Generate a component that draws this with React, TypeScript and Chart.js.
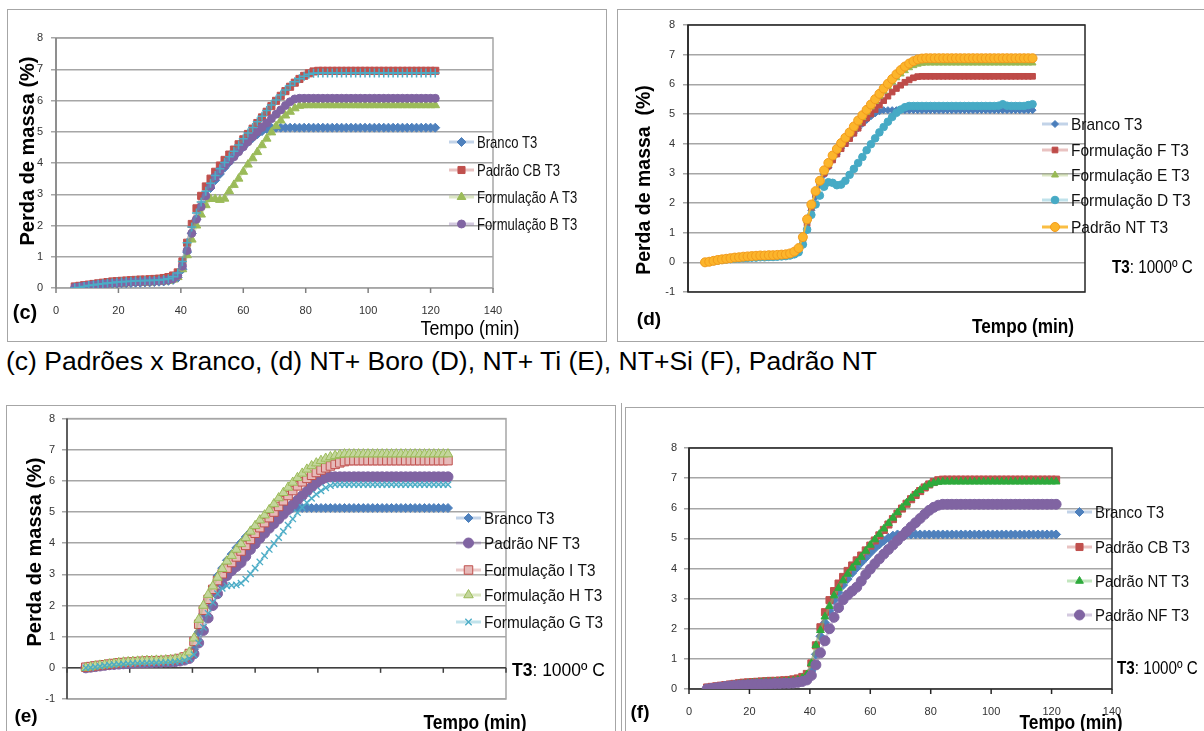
import React, { useEffect, useRef } from "react";
import { Chart, registerables } from "chart.js";

Chart.register(...registerables);

// ---------------- data ----------------
const TIME_MIN = [
  6, 7.5, 9, 10.5, 12, 13.5, 15, 16.5, 18, 19.5,
  21, 22.5, 24, 25.5, 27, 28.5, 30, 31.5, 33, 34.5,
  36, 37.5, 39, 40.5, 42, 43.5, 45, 46.5, 48, 49.5,
  51, 52.5, 54, 55.5, 57, 58.5, 60, 61.5, 63, 64.5,
  66, 67.5, 69, 70.5, 72, 73.5, 75, 76.5, 78, 79.5,
  81, 82.5, 84, 85.5, 87, 88.5, 90, 91.5, 93, 94.5,
  96, 97.5, 99, 100.5, 102, 103.5, 105, 106.5, 108, 109.5,
  111, 112.5, 114, 115.5, 117, 118.5, 120, 121.5,
];

const X_MIN = 0;
const X_MAX = 140;
const X_STEP = 20;
const Y_MAX = 8;

const BRANCO_T3 = [
  0.00, 0.02, 0.04, 0.06, 0.08, 0.09, 0.10, 0.12, 0.13, 0.14,
  0.15, 0.15, 0.16, 0.17, 0.17, 0.18, 0.18, 0.19, 0.20, 0.21,
  0.23, 0.26, 0.33, 0.60, 1.15, 1.75, 2.20, 2.60, 2.95, 3.20,
  3.45, 3.65, 3.85, 4.02, 4.20, 4.36, 4.52, 4.67, 4.80, 4.92,
  5.02, 5.09, 5.13, 5.13, 5.13, 5.13, 5.13, 5.13, 5.13, 5.13,
  5.13, 5.13, 5.13, 5.13, 5.13, 5.13, 5.13, 5.13, 5.13, 5.13,
  5.13, 5.13, 5.13, 5.13, 5.13, 5.13, 5.13, 5.13, 5.13, 5.13,
  5.13, 5.13, 5.13, 5.13, 5.13, 5.13, 5.13, 5.13,
];

const PADRAO_CB_T3 = [
  0.05, 0.07, 0.09, 0.11, 0.13, 0.15, 0.17, 0.19, 0.21, 0.22,
  0.23, 0.24, 0.25, 0.26, 0.27, 0.27, 0.28, 0.29, 0.30, 0.32,
  0.35, 0.40, 0.50, 0.85, 1.45, 2.05, 2.55, 2.95, 3.25, 3.50,
  3.72, 3.92, 4.10, 4.27, 4.43, 4.60, 4.76, 4.93, 5.10, 5.28,
  5.46, 5.64, 5.82, 5.99, 6.15, 6.30, 6.44, 6.57, 6.69, 6.79,
  6.87, 6.93, 6.95, 6.95, 6.95, 6.95, 6.95, 6.95, 6.95, 6.95,
  6.95, 6.95, 6.95, 6.95, 6.95, 6.95, 6.95, 6.95, 6.95, 6.95,
  6.95, 6.95, 6.95, 6.95, 6.95, 6.95, 6.95, 6.95,
];

const PADRAO_NT_T3 = [
  0.00, 0.02, 0.05, 0.08, 0.10, 0.12, 0.14, 0.16, 0.17, 0.19,
  0.20, 0.21, 0.22, 0.23, 0.23, 0.24, 0.24, 0.25, 0.26, 0.27,
  0.30, 0.36, 0.48, 0.85, 1.45, 1.95, 2.40, 2.75, 3.10, 3.35,
  3.60, 3.82, 4.02, 4.20, 4.38, 4.58, 4.78, 4.96, 5.14, 5.32,
  5.50, 5.68, 5.86, 6.02, 6.18, 6.34, 6.48, 6.60, 6.70, 6.78,
  6.84, 6.87, 6.88, 6.88, 6.88, 6.88, 6.88, 6.88, 6.88, 6.88,
  6.88, 6.88, 6.88, 6.88, 6.88, 6.88, 6.88, 6.88, 6.88, 6.88,
  6.88, 6.88, 6.88, 6.88, 6.88, 6.88, 6.88, 6.88,
];

const FORM_A_T3 = [
  0.00, 0.01, 0.03, 0.05, 0.07, 0.08, 0.10, 0.11, 0.12, 0.13,
  0.14, 0.15, 0.16, 0.16, 0.17, 0.17, 0.18, 0.19, 0.20, 0.21,
  0.23, 0.27, 0.35, 0.60, 1.05, 1.55, 2.00, 2.35, 2.65, 2.85,
  2.85, 2.82, 2.86, 3.10, 3.30, 3.50, 3.72, 3.95, 4.15, 4.35,
  4.57, 4.78, 4.98, 5.18, 5.36, 5.52, 5.64, 5.75, 5.83, 5.85,
  5.85, 5.85, 5.85, 5.85, 5.85, 5.85, 5.85, 5.85, 5.85, 5.85,
  5.85, 5.85, 5.85, 5.85, 5.85, 5.85, 5.85, 5.85, 5.85, 5.85,
  5.85, 5.85, 5.85, 5.85, 5.85, 5.85, 5.85, 5.85,
];

const FORM_B_T3 = [
  0.02, 0.04, 0.06, 0.08, 0.10, 0.11, 0.13, 0.14, 0.15, 0.16,
  0.17, 0.18, 0.19, 0.20, 0.20, 0.21, 0.21, 0.22, 0.23, 0.24,
  0.26, 0.30, 0.40, 0.70, 1.20, 1.75, 2.20, 2.60, 2.95, 3.25,
  3.55, 3.75, 3.92, 4.06, 4.20, 4.36, 4.52, 4.68, 4.84, 5.00,
  5.14, 5.28, 5.42, 5.56, 5.70, 5.84, 5.96, 6.05, 6.07, 6.07,
  6.07, 6.07, 6.07, 6.07, 6.07, 6.07, 6.07, 6.07, 6.07, 6.07,
  6.07, 6.07, 6.07, 6.07, 6.07, 6.07, 6.07, 6.07, 6.07, 6.07,
  6.07, 6.07, 6.07, 6.07, 6.07, 6.07, 6.07, 6.07,
];

const FORM_F_T3 = [
  0.00, 0.03, 0.06, 0.08, 0.10, 0.12, 0.14, 0.15, 0.17, 0.18,
  0.19, 0.20, 0.21, 0.22, 0.22, 0.23, 0.23, 0.24, 0.25, 0.26,
  0.28, 0.33, 0.42, 0.75, 1.30, 1.85, 2.30, 2.70, 3.00, 3.25,
  3.45, 3.65, 3.83, 4.00, 4.17, 4.35, 4.52, 4.70, 4.86, 5.00,
  5.15, 5.30, 5.45, 5.60, 5.74, 5.86, 5.97, 6.07, 6.15, 6.22,
  6.26, 6.27, 6.27, 6.27, 6.27, 6.27, 6.27, 6.27, 6.27, 6.27,
  6.27, 6.27, 6.27, 6.27, 6.27, 6.27, 6.27, 6.27, 6.27, 6.27,
  6.27, 6.27, 6.27, 6.27, 6.27, 6.27, 6.27, 6.27,
];

const FORM_E_T3 = [
  0.00, 0.02, 0.05, 0.07, 0.09, 0.11, 0.13, 0.15, 0.16, 0.18,
  0.19, 0.20, 0.21, 0.22, 0.22, 0.23, 0.23, 0.24, 0.25, 0.26,
  0.29, 0.34, 0.45, 0.80, 1.40, 1.90, 2.35, 2.72, 3.05, 3.30,
  3.55, 3.77, 3.97, 4.15, 4.33, 4.52, 4.70, 4.88, 5.06, 5.24,
  5.42, 5.60, 5.77, 5.93, 6.08, 6.22, 6.35, 6.46, 6.56, 6.63,
  6.68, 6.71, 6.72, 6.72, 6.72, 6.72, 6.72, 6.72, 6.72, 6.72,
  6.72, 6.72, 6.72, 6.72, 6.72, 6.72, 6.72, 6.72, 6.72, 6.72,
  6.72, 6.72, 6.72, 6.72, 6.72, 6.72, 6.72, 6.72,
];

const FORM_D_T3 = [
  0.00, 0.02, 0.04, 0.06, 0.08, 0.10, 0.11, 0.12, 0.13, 0.14,
  0.15, 0.16, 0.16, 0.17, 0.17, 0.18, 0.18, 0.19, 0.20, 0.21,
  0.23, 0.27, 0.34, 0.60, 1.10, 1.60, 1.95, 2.25, 2.55, 2.70,
  2.68, 2.60, 2.62, 2.75, 2.95, 3.15, 3.35, 3.55, 3.78, 3.98,
  4.18, 4.38, 4.56, 4.74, 4.90, 5.04, 5.15, 5.23, 5.27, 5.27,
  5.27, 5.27, 5.27, 5.27, 5.27, 5.27, 5.27, 5.27, 5.27, 5.27,
  5.27, 5.27, 5.27, 5.27, 5.27, 5.27, 5.27, 5.27, 5.27, 5.28,
  5.33, 5.28, 5.27, 5.27, 5.27, 5.27, 5.30, 5.33,
];

const PADRAO_NF_T3 = [
  0.00, 0.02, 0.04, 0.06, 0.08, 0.10, 0.11, 0.12, 0.13, 0.14,
  0.15, 0.16, 0.16, 0.17, 0.17, 0.18, 0.18, 0.19, 0.19, 0.20,
  0.22, 0.25, 0.30, 0.45, 0.80, 1.20, 1.60, 2.00, 2.38, 2.70,
  2.96, 3.12, 3.25, 3.38, 3.58, 3.80, 3.98, 4.16, 4.32, 4.48,
  4.63, 4.78, 4.93, 5.08, 5.23, 5.38, 5.52, 5.66, 5.80, 5.93,
  6.03, 6.10, 6.13, 6.13, 6.13, 6.13, 6.13, 6.13, 6.13, 6.13,
  6.13, 6.13, 6.13, 6.13, 6.13, 6.13, 6.13, 6.13, 6.13, 6.13,
  6.13, 6.13, 6.13, 6.13, 6.13, 6.13, 6.13, 6.13,
];

const FORM_H_T3 = [
  0.00, 0.03, 0.06, 0.08, 0.10, 0.12, 0.14, 0.16, 0.18, 0.19,
  0.20, 0.21, 0.22, 0.23, 0.23, 0.24, 0.24, 0.25, 0.26, 0.28,
  0.31, 0.37, 0.50, 0.95, 1.55, 2.00, 2.35, 2.62, 2.90, 3.18,
  3.42, 3.60, 3.80, 3.98, 4.17, 4.38, 4.56, 4.74, 4.90, 5.07,
  5.26, 5.45, 5.62, 5.79, 5.95, 6.10, 6.24, 6.37, 6.48, 6.57,
  6.65, 6.72, 6.77, 6.81, 6.84, 6.86, 6.86, 6.86, 6.86, 6.86,
  6.86, 6.86, 6.86, 6.86, 6.86, 6.86, 6.86, 6.86, 6.86, 6.86,
  6.86, 6.86, 6.86, 6.86, 6.86, 6.86, 6.86, 6.86,
];

const FORM_I_T3 = [
  0.02, 0.04, 0.06, 0.08, 0.10, 0.12, 0.14, 0.16, 0.17, 0.18,
  0.19, 0.20, 0.21, 0.22, 0.22, 0.23, 0.23, 0.24, 0.25, 0.27,
  0.30, 0.35, 0.46, 0.85, 1.40, 1.85, 2.20, 2.52, 2.80, 3.02,
  3.20, 3.38, 3.56, 3.75, 3.93, 4.12, 4.32, 4.50, 4.66, 4.82,
  5.00, 5.18, 5.36, 5.53, 5.69, 5.84, 5.97, 6.08, 6.18, 6.27,
  6.35, 6.42, 6.48, 6.53, 6.58, 6.62, 6.65, 6.65, 6.65, 6.65,
  6.65, 6.65, 6.65, 6.65, 6.65, 6.65, 6.65, 6.65, 6.65, 6.65,
  6.65, 6.65, 6.65, 6.65, 6.65, 6.65, 6.65, 6.65,
];

const FORM_G_T3 = [
  0.00, 0.01, 0.03, 0.05, 0.07, 0.09, 0.10, 0.11, 0.12, 0.13,
  0.14, 0.14, 0.15, 0.15, 0.16, 0.16, 0.17, 0.17, 0.18, 0.19,
  0.21, 0.24, 0.30, 0.42, 0.80, 1.30, 1.75, 2.10, 2.38, 2.55,
  2.63, 2.65, 2.66, 2.72, 2.85, 3.02, 3.20, 3.40, 3.60, 3.80,
  3.99, 4.18, 4.38, 4.58, 4.78, 4.98, 5.15, 5.30, 5.44, 5.57,
  5.68, 5.78, 5.85, 5.88, 5.88, 5.88, 5.88, 5.88, 5.88, 5.88,
  5.88, 5.88, 5.88, 5.88, 5.88, 5.88, 5.88, 5.88, 5.88, 5.88,
  5.88, 5.88, 5.88, 5.88, 5.88, 5.88, 5.88, 5.88,
];

// ---------------- styling / layout ----------------
const SANS = "'Liberation Sans', Arial, Helvetica, sans-serif";
const Y_AXIS_W = 30;

type Series = {
  label: string;
  values: number[];
  marker: string;
  r: number;
  fill: string;
  stroke: string;
  bw: number;
  line: string;
  lw?: number;
  hideLegend?: boolean;
};

type Panel = {
  key: string;
  box: { x: number; y: number; w: number; h: number };
  plot: { l: number; r: number; t: number; b: number };
  yMin: number;
  xLabelPad: number;
  xAxisH: number;
  yLabelPad: number;
  grid: string;
  frame: { rect: string; left: string; zero: string | null; ticks: boolean };
  legend: { x: number; len: number; rows: number[]; scale: number; size: number };
  series: Series[];
};

const BLUE = "#4F81BD";
const RED = "#C0504D";
const GREEN = "#9BBB59";
const PURPLE = "#8064A2";
const CYAN = "#4BACC6";

const brancoStyle = (r: number): Omit<Series, "values"> => ({
  label: "Branco T3",
  marker: "rectRot",
  r,
  fill: BLUE,
  stroke: BLUE,
  bw: 1,
  line: "rgba(79,129,189,0.35)",
});

const PANELS: Panel[] = [
  {
    key: "c",
    box: { x: 7, y: 9, w: 600, h: 333 },
    plot: { l: 56, r: 493, t: 38, b: 288 },
    yMin: 0,
    xLabelPad: 16,
    xAxisH: 30,
    yLabelPad: 8,
    grid: "#a6a6a6",
    frame: { rect: "#a6a6a6", left: "#808080", zero: null, ticks: true },
    legend: { x: 449, len: 25, rows: [142, 170, 197, 224], scale: 0.77, size: 17 },
    series: [
      { ...brancoStyle(4.5), values: BRANCO_T3 },
      { label: "Padrão CB T3", values: PADRAO_CB_T3, marker: "rect", r: 5, fill: RED, stroke: RED, bw: 1, line: "rgba(192,80,77,0.35)" },
      { label: "Formulação A T3", values: FORM_A_T3, marker: "triangle", r: 5, fill: GREEN, stroke: GREEN, bw: 1, line: "rgba(155,187,89,0.35)" },
      { label: "Formulação B T3", values: FORM_B_T3, marker: "circle", r: 4, fill: PURPLE, stroke: PURPLE, bw: 1, line: "rgba(128,100,162,0.35)" },
      { label: "Padrão NT T3", values: PADRAO_NT_T3, marker: "cross", r: 4.5, fill: CYAN, stroke: CYAN, bw: 1.5, line: "rgba(75,172,198,0.35)", hideLegend: true },
    ],
  },
  {
    key: "d",
    box: { x: 617, y: 9, w: 587, h: 333 },
    plot: { l: 688, r: 1085, t: 25, b: 292 },
    yMin: -1,
    xLabelPad: -12.6,
    xAxisH: 4,
    yLabelPad: 8,
    grid: "#a6a6a6",
    frame: { rect: "#262626", left: "#262626", zero: null, ticks: false },
    legend: { x: 1042, len: 26, rows: [124, 150, 175, 200, 227], scale: 0.91, size: 17 },
    series: [
      { ...brancoStyle(3.5), values: BRANCO_T3, fill: "#4A7EBB", stroke: "#4A7EBB" },
      { label: "Formulação F T3", values: FORM_F_T3, marker: "rect", r: 4, fill: "#BE4B48", stroke: "#BE4B48", bw: 1, line: "rgba(192,80,77,0.35)" },
      { label: "Formulação E T3", values: FORM_E_T3, marker: "triangle", r: 4, fill: "#98B954", stroke: "#98B954", bw: 1, line: "rgba(155,187,89,0.35)" },
      { label: "Formulação D T3", values: FORM_D_T3, marker: "circle", r: 3.8, fill: "#46AAC5", stroke: "#46AAC5", bw: 1, line: "rgba(75,172,198,0.35)" },
      { label: "Padrão NT T3", values: PADRAO_NT_T3, marker: "circle", r: 4.5, fill: "#FCB52B", stroke: "#F29B1D", bw: 1, line: "rgba(249,183,46,0.9)", lw: 2 },
    ],
  },
  {
    key: "e",
    box: { x: 6, y: 405, w: 610, h: 326 },
    plot: { l: 67, r: 506, t: 417, b: 699 },
    yMin: -1,
    xLabelPad: -15.6,
    xAxisH: 4,
    yLabelPad: 7,
    grid: "#a6a6a6",
    frame: { rect: "#a6a6a6", left: "#404040", zero: "#404040", ticks: true },
    legend: { x: 456, len: 25, rows: [518, 543, 570, 595, 622], scale: 0.9, size: 17 },
    series: [
      { ...brancoStyle(4.5), values: BRANCO_T3 },
      { label: "Padrão NF T3", values: PADRAO_NF_T3, marker: "circle", r: 5, fill: PURPLE, stroke: PURPLE, bw: 1, line: "rgba(128,100,162,0.35)" },
      { label: "Formulação I T3", values: FORM_I_T3, marker: "rect", r: 6, fill: "#E6B9B8", stroke: RED, bw: 1, line: "rgba(192,80,77,0.3)" },
      { label: "Formulação H T3", values: FORM_H_T3, marker: "triangle", r: 5.5, fill: "#C3D69B", stroke: GREEN, bw: 1, line: "rgba(155,187,89,0.35)" },
      { label: "Formulação G T3", values: FORM_G_T3, marker: "crossRot", r: 4.5, fill: CYAN, stroke: CYAN, bw: 1.3, line: "rgba(75,172,198,0.35)" },
    ],
  },
  {
    key: "f",
    box: { x: 625, y: 407, w: 579, h: 324 },
    plot: { l: 689, r: 1112, t: 448, b: 689 },
    yMin: 0,
    xLabelPad: 16,
    xAxisH: 30,
    yLabelPad: 7,
    grid: "#a6a6a6",
    frame: { rect: "#262626", left: "#262626", zero: null, ticks: true },
    legend: { x: 1067, len: 25, rows: [512, 547, 581, 615], scale: 0.88, size: 17 },
    series: [
      { ...brancoStyle(4.5), values: BRANCO_T3 },
      { label: "Padrão CB T3", values: PADRAO_CB_T3, marker: "rect", r: 5, fill: RED, stroke: RED, bw: 1, line: "rgba(192,80,77,0.35)" },
      { label: "Padrão NT T3", values: PADRAO_NT_T3, marker: "triangle", r: 4.5, fill: "#2EAA3C", stroke: "#2EAA3C", bw: 1, line: "rgba(120,200,110,0.45)" },
      { label: "Padrão NF T3", values: PADRAO_NF_T3, marker: "circle", r: 5, fill: PURPLE, stroke: PURPLE, bw: 1, line: "rgba(128,100,162,0.35)" },
    ],
  },
];

// ---------------- drawing helpers ----------------
function drawMarker(ctx: CanvasRenderingContext2D, s: Series, x: number, y: number) {
  const r = s.r;
  ctx.save();
  ctx.fillStyle = s.fill;
  ctx.strokeStyle = s.stroke;
  ctx.lineWidth = s.bw;
  ctx.beginPath();
  switch (s.marker) {
    case "circle":
      ctx.arc(x, y, r, 0, Math.PI * 2);
      ctx.closePath();
      ctx.fill();
      ctx.stroke();
      break;
    case "rect": {
      const h = r * Math.SQRT1_2;
      ctx.rect(x - h, y - h, 2 * h, 2 * h);
      ctx.fill();
      ctx.stroke();
      break;
    }
    case "rectRot":
      ctx.moveTo(x, y - r);
      ctx.lineTo(x + r, y);
      ctx.lineTo(x, y + r);
      ctx.lineTo(x - r, y);
      ctx.closePath();
      ctx.fill();
      ctx.stroke();
      break;
    case "triangle": {
      let a = 0;
      ctx.moveTo(x + Math.sin(a) * r, y - Math.cos(a) * r);
      a += (2 * Math.PI) / 3;
      ctx.lineTo(x + Math.sin(a) * r, y - Math.cos(a) * r);
      a += (2 * Math.PI) / 3;
      ctx.lineTo(x + Math.sin(a) * r, y - Math.cos(a) * r);
      ctx.closePath();
      ctx.fill();
      ctx.stroke();
      break;
    }
    case "cross":
      ctx.moveTo(x, y - r);
      ctx.lineTo(x, y + r);
      ctx.moveTo(x - r, y);
      ctx.lineTo(x + r, y);
      ctx.stroke();
      break;
    case "crossRot": {
      const d = r * Math.SQRT1_2;
      ctx.moveTo(x - d, y - d);
      ctx.lineTo(x + d, y + d);
      ctx.moveTo(x + d, y - d);
      ctx.lineTo(x - d, y + d);
      ctx.stroke();
      break;
    }
  }
  ctx.restore();
}

function framePlugin(p: Panel) {
  return {
    id: "frame_" + p.key,
    beforeDatasetsDraw(chart: any) {
      const { ctx, chartArea: a, scales } = chart;
      const f = p.frame;
      const line = (x1: number, y1: number, x2: number, y2: number) => {
        ctx.beginPath();
        ctx.moveTo(x1, y1);
        ctx.lineTo(x2, y2);
        ctx.stroke();
      };
      ctx.save();
      ctx.lineWidth = 1.5;
      ctx.strokeStyle = f.rect;
      ctx.strokeRect(a.left, a.top, a.right - a.left, a.bottom - a.top);
      const y0 = scales.y.getPixelForValue(0);
      if (f.zero) {
        ctx.strokeStyle = f.zero;
        line(a.left, y0, a.right, y0);
      }
      ctx.strokeStyle = f.left;
      line(a.left, a.top, a.left, a.bottom);
      if (f.ticks) {
        for (const t of scales.x.ticks) {
          const x = scales.x.getPixelForValue(t.value);
          line(x, y0, x, y0 + 5);
        }
      }
      ctx.restore();
    },
  };
}

function legendPlugin(p: Panel) {
  return {
    id: "xlLegend_" + p.key,
    afterDraw(chart: any) {
      const ctx: CanvasRenderingContext2D = chart.ctx;
      const L = p.legend;
      let row = 0;
      chart.data.datasets.forEach((ds: any, i: number) => {
        const s = p.series[i];
        if (s.hideLegend) return;
        const y = L.rows[row++] - p.box.y;
        const x0 = L.x - p.box.x;
        ctx.save();
        ctx.strokeStyle = s.line;
        ctx.lineWidth = 3;
        ctx.beginPath();
        ctx.moveTo(x0, y);
        ctx.lineTo(x0 + L.len, y);
        ctx.stroke();
        drawMarker(ctx, s, x0 + L.len / 2, y);
        ctx.font = `${L.size}px ${SANS}`;
        ctx.fillStyle = "#111";
        ctx.textBaseline = "middle";
        ctx.textAlign = "left";
        ctx.translate(x0 + L.len + 3, y + 1);
        ctx.scale(L.scale, 1);
        ctx.fillText(ds.label, 0, 0);
        ctx.restore();
      });
    },
  };
}

function buildConfig(p: Panel): any {
  const pad = {
    left: p.plot.l - p.box.x - Y_AXIS_W,
    top: p.plot.t - p.box.y,
    right: p.box.x + p.box.w - p.plot.r,
    bottom: p.box.y + p.box.h - p.plot.b - p.xAxisH,
  };
  const tickFont = { family: SANS, size: 11 };
  return {
    type: "line",
    data: {
      datasets: p.series.map((s, i) => ({
        label: s.label,
        data: s.values.map((v, j) => ({ x: TIME_MIN[j], y: v })),
        borderColor: s.line,
        borderWidth: s.lw ?? 2.5,
        backgroundColor: s.fill,
        pointStyle: s.marker,
        pointRadius: s.r,
        pointHoverRadius: s.r,
        pointBackgroundColor: s.fill,
        pointBorderColor: s.stroke,
        pointBorderWidth: s.bw,
        tension: 0,
        fill: false,
        order: -i,
      })),
    },
    options: {
      responsive: false,
      animation: false,
      devicePixelRatio: 1,
      events: [],
      layout: { padding: pad },
      plugins: {
        legend: { display: false },
        tooltip: { enabled: false },
        title: { display: false },
      },
      scales: {
        x: {
          type: "linear",
          min: X_MIN,
          max: X_MAX,
          afterFit: (sc: any) => {
            sc.height = p.xAxisH;
          },
          grid: { display: false, drawTicks: false, tickLength: 0 },
          border: { display: false },
          ticks: {
            stepSize: X_STEP,
            padding: p.xLabelPad,
            font: tickFont,
            color: "#333",
            maxRotation: 0,
            autoSkip: false,
          },
        },
        y: {
          type: "linear",
          min: p.yMin,
          max: Y_MAX,
          afterFit: (sc: any) => {
            sc.width = Y_AXIS_W;
          },
          grid: { color: p.grid, lineWidth: 1.5, drawTicks: true, tickLength: 5 },
          border: { display: false },
          ticks: { stepSize: 1, padding: p.yLabelPad, font: tickFont, color: "#333" },
        },
      },
    },
    plugins: [framePlugin(p), legendPlugin(p)],
  };
}

function PanelChart({ p }: { p: Panel }) {
  const ref = useRef<HTMLCanvasElement>(null);
  useEffect(() => {
    const chart = new Chart(ref.current as HTMLCanvasElement, buildConfig(p));
    return () => chart.destroy();
  }, []);
  return (
    <canvas
      ref={ref}
      width={p.box.w}
      height={p.box.h}
      style={{ position: "absolute", left: p.box.x, top: p.box.y, width: p.box.w, height: p.box.h }}
    />
  );
}

type TxtProps = {
  x: number;
  y: number;
  size: number;
  bold?: boolean;
  sx?: number;
  anchor?: "left" | "center";
  rotate?: boolean;
  children: React.ReactNode;
};

function Txt({ x, y, size, bold, sx = 1, anchor = "center", rotate, children }: TxtProps) {
  let transform = "";
  let origin = "center center";
  if (rotate) transform = "translate(-50%,-50%) rotate(-90deg)";
  else if (anchor === "center") transform = `translate(-50%,-50%) scaleX(${sx})`;
  else {
    transform = `translateY(-50%) scaleX(${sx})`;
    origin = "left center";
  }
  return (
    <div
      style={{
        position: "absolute",
        left: x,
        top: y,
        fontFamily: SANS,
        fontSize: size,
        fontWeight: bold ? "bold" : "normal",
        lineHeight: 1,
        whiteSpace: "nowrap",
        color: "#000",
        transform,
        transformOrigin: origin,
      }}
    >
      {children}
    </div>
  );
}

const boxStyle = (x: number, y: number, w: number, h: number): React.CSSProperties => ({
  position: "absolute",
  left: x,
  top: y,
  width: w,
  height: h,
  border: "1px solid #a6a6a6",
  boxSizing: "border-box",
});

const T3 = (
  <>
    <b>T3</b>: 1000º C
  </>
);

export default function App() {
  return (
    <div
      style={{
        position: "absolute",
        left: 0,
        top: 0,
        width: 1204,
        height: 731,
        overflow: "hidden",
        background: "#fff",
      }}
    >
      <div style={boxStyle(7, 9, 600, 333)} />
      <div style={boxStyle(617, 9, 620, 333)} />
      <div style={boxStyle(6, 405, 610, 360)} />
      <div style={boxStyle(625, 407, 620, 360)} />
      <div style={{ position: "absolute", left: 621, top: 403, width: 1, height: 340, background: "#a6a6a6" }} />

      {PANELS.map((p) => (
        <PanelChart key={p.key} p={p} />
      ))}

      <Txt x={27} y={151} size={20} bold rotate>
        Perda de massa (%)
      </Txt>
      <Txt x={25} y={312} size={20} bold>
        (c)
      </Txt>
      <Txt x={470} y={328} size={20} sx={0.89}>
        Tempo (min)
      </Txt>

      <Txt x={644} y={180} size={19.5} bold rotate>
        {"Perda de massa\u00a0 (%)"}
      </Txt>
      <Txt x={649} y={318} size={19} bold>
        (d)
      </Txt>
      <Txt x={1023} y={326} size={20} bold sx={0.86}>
        Tempo (min)
      </Txt>
      <Txt x={1112} y={266} size={19} sx={0.8} anchor="left">
        {T3}
      </Txt>

      <Txt x={6} y={361} size={26.5} anchor="left">
        (c) Padrões x Branco, (d) NT+ Boro (D), NT+ Ti (E), NT+Si (F), Padrão NT
      </Txt>

      <Txt x={34} y={552} size={20} bold rotate>
        Perda de massa (%)
      </Txt>
      <Txt x={26} y={715} size={19} bold>
        (e)
      </Txt>
      <Txt x={475} y={722} size={20} bold sx={0.87}>
        Tempo (min)
      </Txt>
      <Txt x={512} y={669} size={19} sx={0.92} anchor="left">
        {T3}
      </Txt>

      <Txt x={640} y={711} size={19} bold>
        (f)
      </Txt>
      <Txt x={1071} y={722} size={20} bold sx={0.87}>
        Tempo (min)
      </Txt>
      <Txt x={1117} y={667} size={19} sx={0.8} anchor="left">
        {T3}
      </Txt>
    </div>
  );
}
